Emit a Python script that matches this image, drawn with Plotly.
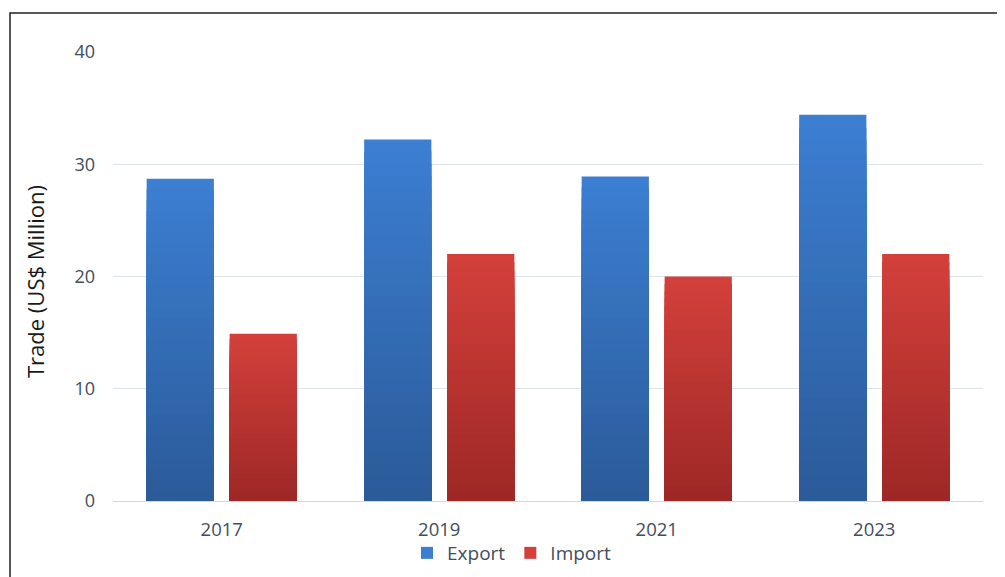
import plotly.graph_objects as go

years = ["2017", "2019", "2021", "2023"]
export_values = [28.7, 32.2, 28.9, 34.4]
import_values = [14.9, 22.0, 20.0, 22.0]
y_ticks = [0, 10, 20, 30, 40]

series = [
    ("Export", export_values, (60, 126, 210), (43, 91, 153)),
    ("Import", import_values, (211, 64, 59), (158, 40, 38)),
]

N = 30
fig = go.Figure()
for name, vals, top, bot in series:
    for i in range(N):
        f = 1 - i / N
        t = i / (N - 1)
        c = tuple(round(top[k] + (bot[k] - top[k]) * t) for k in range(3))
        fig.add_trace(go.Bar(
            x=years, y=[v * f for v in vals], name=name,
            offsetgroup=name, legendgroup=name,
            showlegend=(i == 0),
            marker=dict(color="rgb(%d,%d,%d)" % c, line=dict(width=0)),
            hoverinfo="skip" if i else None,
        ))

# page has an 8px body margin; work in figure coordinates = page - 8
OFF = 8
W, H = 1005 - OFF, 577 - OFF
ml, mt = 113 - OFF, 52 - OFF
mr = W - (983 - OFF)
mb = H - (501 - OFF)
pw, ph = W - ml - mr, H - mt - mb


def px(x):
    return (x - OFF - ml) / pw


def py(y):
    return (H - mb - (y - OFF)) / ph


fig.update_layout(
    width=W, height=H,
    margin=dict(l=ml, r=mr, t=mt, b=mb, autoexpand=False),
    paper_bgcolor="white", plot_bgcolor="white",
    barmode="group", bargap=0.237, bargroupgap=0.19,
    font=dict(family="Open Sans, sans-serif", color="#3f4d61", size=17),
    showlegend=True,
    legend=dict(orientation="h", x=px(512), xanchor="center",
                y=py(553), yanchor="middle", bgcolor="rgba(0,0,0,0)",
                font=dict(size=19, color="#3f4d61"), itemwidth=30,
                traceorder="normal"),
    xaxis=dict(showgrid=False, showline=False, zeroline=False,
               ticks="", ticklabelstandoff=15,
               tickfont=dict(size=18.5, color="#3f4d61")),
    yaxis=dict(range=[0, 40], tickvals=y_ticks, showgrid=True,
               gridcolor="#dfe5ec", gridwidth=1, zeroline=True,
               zerolinecolor="#cfd9e6", zerolinewidth=1, showline=False,
               ticks="", ticklabelstandoff=17,
               tickfont=dict(size=18, color="#3f4d61")),
    annotations=[dict(
        text="Trade (US$ Million)", textangle=-90, showarrow=False,
        xref="paper", yref="paper", x=px(35), y=py(282),
        xanchor="center", yanchor="middle",
        font=dict(size=22, color="#1a1a1a"),
    )],
    shapes=[dict(
        type="rect", xref="paper", yref="paper",
        x0=px(10), x1=1.1, y0=-0.3, y1=py(13),
        line=dict(color="#222222", width=1.5), layer="above",
    )],
)

fig.write_html("out.html")
